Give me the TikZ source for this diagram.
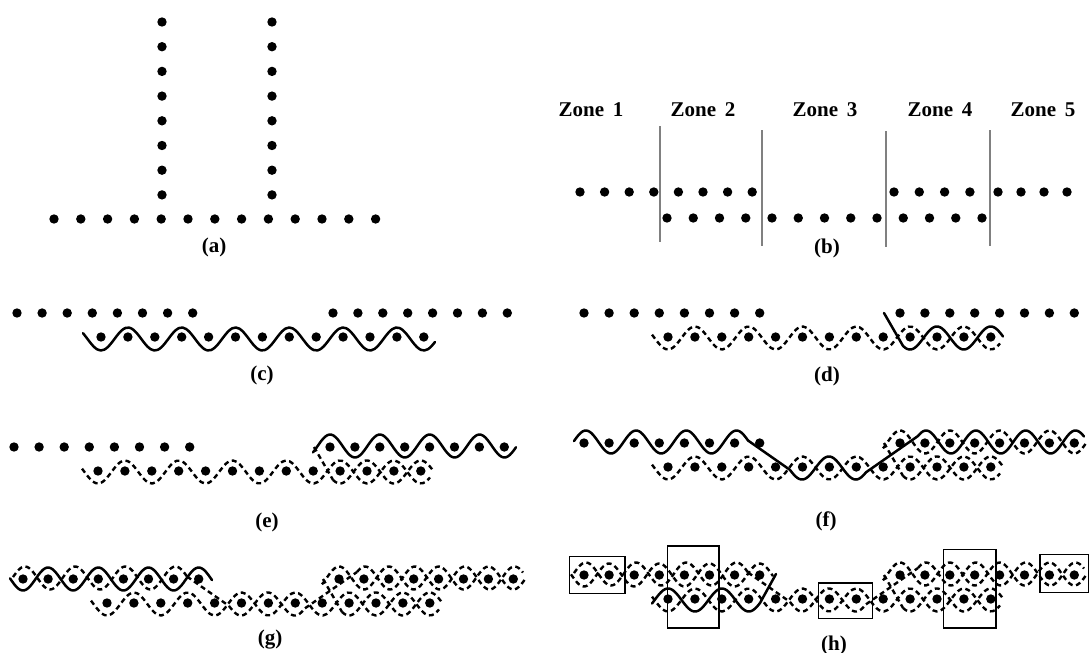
\documentclass[tikz,border=0pt]{standalone}
\usepackage{fontspec}
\setmainfont{Liberation Serif}
\newcommand\wamp{11.5}
\newcommand\dotrow[4]{\foreach \k in {1,...,#3}{\fill ({#1+(\k-1)*#2},#4) circle[radius=4.7pt];}}
\newcommand\wv[5]{plot[domain=#1:#2,samples=100,smooth] (\x,{#5+\wamp*cos(((\x-(#3))/(#4))*180)})}
\newcommand\rowsTLTRB[1]{\dotrow{584}{25.1}{8}{313}\dotrow{900}{24.9}{#1}{313}\dotrow{668}{26.9}{13}{337}}
\newcommand\pBA[1]{\draw[#1] \wv{652}{1000}{668}{26.9}{338};}
\newcommand\pBB[1]{\draw[#1] (884,313) -- (903,345.9); \draw[#1] \wv{903}{1003}{910}{26.9}{338};}
\newcommand\pTRB[1]{\draw[#1] \wv{883}{1086}{925}{24.9}{312};}
\newcommand\pF[1]{\draw[#1] \wv{574}{748}{611}{25.1}{312};
  \draw[#1] (748,310.5) -- (790,339.9);
  \draw[#1] \wv{790}{866}{802}{26.9}{338};
  \draw[#1] (866,342.3) -- (918,306);
  \draw[#1] \wv{918}{1084}{951}{24.9}{312};}
\newcommand\pTLA[1]{\draw[#1] \wv{571}{773}{584}{25.1}{313};}
\newcommand\pH[1]{\draw[#1] \wv{652}{760}{695}{26.9}{338}; \draw[#1] (760,341) -- (776,312);}
\begin{document}
\begin{tikzpicture}[x=1pt,y=-1pt,
  sw/.style={line width=2.5pt,line cap=round,line join=round},
  dw/.style={line width=2.4pt,dash pattern=on 5pt off 3.5pt},
  lbl/.style={font=\bfseries\fontsize{21}{23}\selectfont,inner sep=0pt},
  zlbl/.style={font=\bfseries\fontsize{21}{23}\selectfont,inner sep=0pt},
  zbar/.style={draw=black!50,line width=1.8pt},
  boxr/.style={draw=black,line width=1.3pt}]
\useasboundingbox (0,0) rectangle (1090,653);
% ---------- (a)
\foreach \k in {0,...,7}{\fill (162,{22+24.7*\k}) circle[radius=4.7pt]; \fill (272,{22+24.7*\k}) circle[radius=4.7pt];}
\dotrow{54}{26.8}{13}{219}
\node[lbl] (la) at (214,247) {(a)};
% ---------- (b)
\node[zlbl] (z1) at (591,110) {Zone\hspace{0.42em}1};
\node[zlbl] (z2) at (703,110) {Zone\hspace{0.42em}2};
\node[zlbl] (z3) at (825,110) {Zone\hspace{0.42em}3};
\node[zlbl] (z4) at (940,110) {Zone\hspace{0.42em}4};
\node[zlbl] (z5) at (1043,110) {Zone\hspace{0.42em}5};
\draw[zbar] (660,126) -- (660,242);
\draw[zbar] (762,130) -- (762,246);
\draw[zbar] (886,131) -- (886,247);
\draw[zbar] (990,130) -- (990,246);
\dotrow{580}{24.6}{8}{192}
\dotrow{894}{25.3}{4}{192}
\dotrow{998}{23}{4}{192}
\dotrow{667}{26.25}{13}{218}
\node[lbl] (lb) at (827,248) {(b)};
% ---------- (c)
\begin{scope}[shift={(-567,0)}]
\rowsTLTRB{8}
\draw[sw] \wv{650}{1002}{668}{26.9}{339};
\end{scope}
\node[lbl] (lc) at (262,375) {(c)};
% ---------- (d)
\rowsTLTRB{8}
\pBA{dw}
\pBB{sw}
\node[lbl] (ld) at (827,376) {(d)};
% ---------- (e)
\begin{scope}[shift={(-570,134)}]
\rowsTLTRB{8}
\pBA{dw}
\pBB{dw}
\pTRB{sw}
\end{scope}
\node[lbl] (le) at (267,522) {(e)};
% ---------- (f)
\begin{scope}[shift={(0,130)}]
\rowsTLTRB{8}
\pBA{dw}
\pBB{dw}
\pTRB{dw}
\pF{sw}
\end{scope}
\node[lbl] (lf) at (826,521) {(f)};
% ---------- (g)
\begin{scope}[shift={(-561,266)}]
\rowsTLTRB{8}
\pBA{dw}
\pBB{dw}
\pTRB{dw}
\pF{dw}
\pTLA{sw}
\end{scope}
\node[lbl] (lg) at (270,640) {(g)};
% ---------- (h)
\begin{scope}[shift={(0,262)}]
\rowsTLTRB{8}
\pBA{dw}
\pBB{dw}
\pTRB{dw}
\pF{dw}
\pTLA{dw}
\pH{sw}
\end{scope}
\draw[boxr] (569.5,556.5) rectangle (625,593.5);
\draw[boxr] (667.5,546) rectangle (719,628);
\draw[boxr] (818.5,583) rectangle (872.5,618.5);
\draw[boxr] (943.5,549.5) rectangle (996,628);
\draw[boxr] (1040,554.5) rectangle (1088.5,592.5);
\node[lbl] (lh) at (834,645) {(h)};
\end{tikzpicture}
\end{document}
